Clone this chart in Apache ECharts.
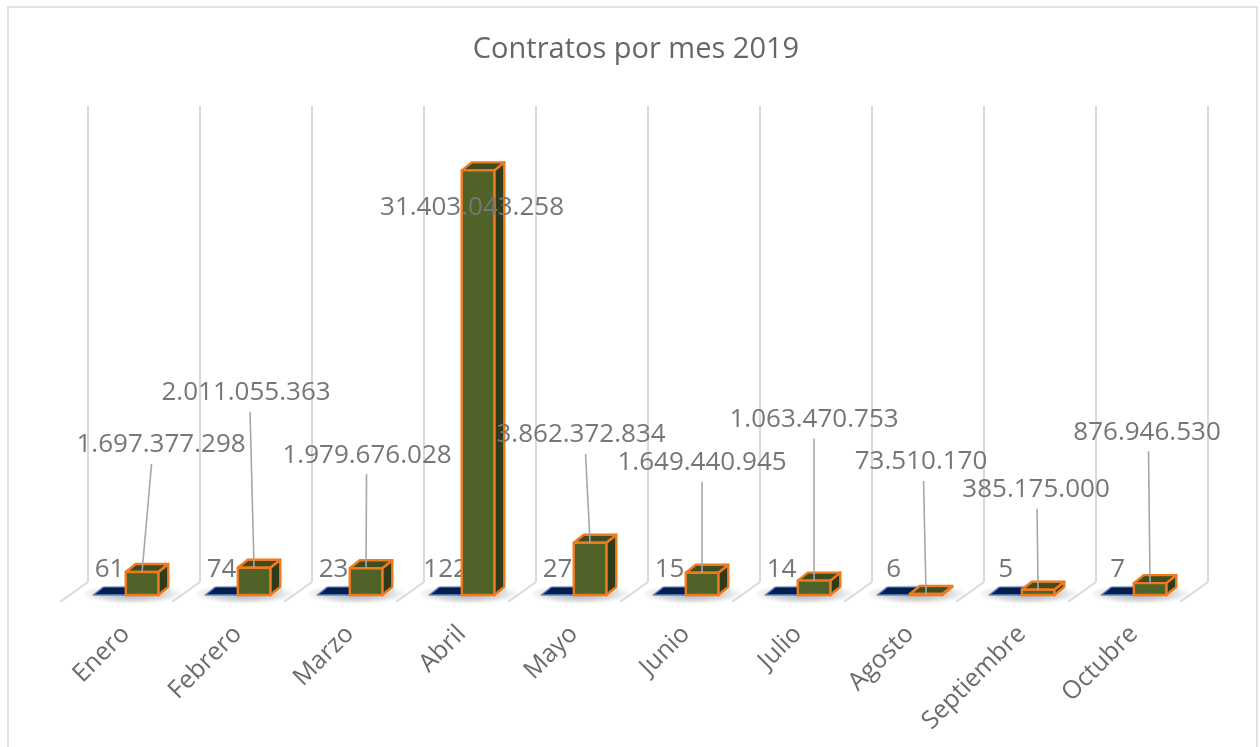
<!DOCTYPE html>
<html>
<head>
<meta charset="utf-8">
<script src="https://cdn.jsdelivr.net/npm/echarts@6/dist/echarts.min.js"></script>
<style>
  html, body { margin: 0; padding: 0; background: #ffffff; }
  #chart { width: 1260px; height: 747px; }
</style>
</head>
<body>
<div id="chart"></div>
<script>
// Monthly contracts for 2019: number of contracts and total contracted value
const months = ['Enero', 'Febrero', 'Marzo', 'Abril', 'Mayo', 'Junio', 'Julio', 'Agosto', 'Septiembre', 'Octubre'];
const contratos = [61, 74, 23, 122, 27, 15, 14, 6, 5, 7];
const valores = [1697377298, 2011055363, 1979676028, 31403043258, 3862372834, 1649440945, 1063470753, 73510170, 385175000, 876946530];

// Where each value label sits, as a pixel offset from the top edge of its column
const valueLabelOffsets = [[19, -127], [-8, -175], [1, -113], [-6, 37], [-9, -108], [0, -110], [0, -161], [-5, -132], [-2, -100], [-3, -151]];

const Y_MAX = 35.2e9;
const BAR_FRAC = 0.29;          // column width as a share of the category band
const DEPTH_X = 10, DEPTH_Y = 8; // column depth (pseudo 3D)
const WALL_X = 18.2, WALL_Y = 13; // back wall offset from the column plane
const FRONT_X = -9.8, FRONT_Y = 7; // front floor edge offset

const GRID_COLOR = '#d9d9d9';
const ORANGE = '#ee7a1e';
const FONT = 'Open Sans';
const LABEL_FONT = '26px "' + FONT + '"';

function fmt(n) {
  return String(n).replace(/\B(?=(\d{3})+(?!\d))/g, '.');
}

const idx = months.map((m, i) => [i, 0]);

// back wall gridlines and floor edges at each category boundary
function renderWalls(params, api) {
  const i = api.value(0);
  const base = api.coord([i, 0]);
  const top = api.coord([i, Y_MAX]);
  const w = api.size([1, 0])[0];
  const xs = [base[0] - w / 2];
  if (i === months.length - 1) xs.push(base[0] + w / 2);
  const children = [];
  xs.forEach(xb => {
    children.push({
      type: 'line',
      shape: { x1: xb + WALL_X, y1: base[1] - WALL_Y, x2: xb + WALL_X, y2: top[1] - WALL_Y },
      style: { stroke: GRID_COLOR, lineWidth: 2 }
    });
    children.push({
      type: 'line',
      shape: { x1: xb + WALL_X, y1: base[1] - WALL_Y, x2: xb + FRONT_X, y2: base[1] + FRONT_Y },
      style: { stroke: GRID_COLOR, lineWidth: 2 }
    });
  });
  return { type: 'group', children };
}

// soft elliptical shadow on the floor under each pair of columns
function renderShadow(params, api) {
  const i = api.value(0);
  const base = api.coord([i, 0]);
  const bw = api.size([1, 0])[0] * BAR_FRAC;
  const cx = base[0] + DEPTH_X / 2 + 2, cy = base[1] - 1;
  return {
    type: 'circle',
    shape: { cx: cx, cy: cy, r: bw + 18 },
    scaleY: 0.2,
    originX: cx,
    originY: cy,
    style: {
      fill: new echarts.graphic.RadialGradient(0.5, 0.5, 0.5, [
        { offset: 0, color: 'rgba(0,0,0,0.32)' },
        { offset: 0.6, color: 'rgba(0,0,0,0.16)' },
        { offset: 1, color: 'rgba(0,0,0,0)' }
      ])
    }
  };
}

// a pseudo-3D column: front face, top face and right side face
function box(x0, yTop, yBase, bw, colors, stroke, lw) {
  const dx = DEPTH_X, dy = DEPTH_Y;
  const st = { stroke: stroke, lineWidth: lw, lineJoin: 'round' };
  return [
    {
      type: 'polygon',
      shape: { points: [[x0 + bw, yTop], [x0 + bw + dx, yTop - dy], [x0 + bw + dx, yBase - dy], [x0 + bw, yBase]] },
      style: Object.assign({ fill: colors.side }, st)
    },
    {
      type: 'polygon',
      shape: { points: [[x0, yTop], [x0 + dx, yTop - dy], [x0 + bw + dx, yTop - dy], [x0 + bw, yTop]] },
      style: Object.assign({ fill: colors.top }, st)
    },
    {
      type: 'rect',
      shape: { x: x0, y: yTop, width: bw, height: Math.max(yBase - yTop, 0.01) },
      style: Object.assign({ fill: colors.front }, st)
    }
  ];
}

function renderCount(params, api) {
  const i = api.value(0);
  const v = api.value(1);
  const p = api.coord([i, v]);
  const base = api.coord([i, 0]);
  const bw = api.size([1, 0])[0] * BAR_FRAC;
  const x0 = p[0] - bw;
  const children = box(x0, p[1], base[1], bw, { front: '#002060', top: '#061c4c', side: '#001642' }, '#5a8ccc', 1.2);
  children.push({
    type: 'text',
    style: {
      text: String(v), x: x0 + bw / 2, y: p[1] - 25,
      align: 'center', verticalAlign: 'middle',
      fill: '#767676', font: LABEL_FONT
    },
    z2: 10
  });
  return { type: 'group', children };
}

function renderValue(params, api) {
  const i = api.value(0);
  const v = api.value(1);
  const p = api.coord([i, v]);
  const base = api.coord([i, 0]);
  const bw = api.size([1, 0])[0] * BAR_FRAC;
  return {
    type: 'group',
    children: box(p[0], p[1], base[1], bw, { front: '#4f6228', top: '#3e4c1f', side: '#303c17' }, ORANGE, 2.4)
  };
}

function renderValueLabel(params, api) {
  const i = api.value(0);
  const v = api.value(1);
  const p = api.coord([i, v]);
  const bw = api.size([1, 0])[0] * BAR_FRAC;
  const ax = p[0] + bw / 2, ay = p[1];
  const off = valueLabelOffsets[i];
  const cx = ax + off[0], cy = ay + off[1];
  const children = [];
  if (off[1] < -40) {
    children.push({
      type: 'line',
      shape: { x1: ax, y1: ay, x2: (ax + cx) / 2, y2: cy + 19 },
      style: { stroke: '#a6a6a6', lineWidth: 1.6 }
    });
  }
  children.push({
    type: 'text',
    style: {
      text: fmt(v), x: cx, y: cy,
      align: 'center', verticalAlign: 'middle',
      fill: '#767676', font: LABEL_FONT
    }
  });
  return { type: 'group', children };
}

const chart = echarts.init(document.getElementById('chart'), null, { renderer: 'canvas' });

chart.setOption({
  backgroundColor: '#ffffff',
  animation: false,
  title: {
    text: 'Contratos por mes 2019',
    left: 636,
    textAlign: 'center',
    top: 35,
    padding: 0,
    textStyle: { color: '#666666', fontSize: 29, fontWeight: 'normal', fontFamily: FONT }
  },
  graphic: [{
    type: 'rect',
    shape: { x: 8, y: 7, width: 1249, height: 745 },
    style: { fill: 'none', stroke: GRID_COLOR, lineWidth: 1.5 },
    silent: true
  }],
  grid: { left: 69.8, width: 1120, top: 119, height: 476 },
  xAxis: {
    type: 'category',
    data: months,
    axisLine: { show: false },
    axisTick: { show: false },
    axisLabel: { rotate: 45, margin: 35, color: '#6b6b6b', fontSize: 25, fontFamily: FONT }
  },
  yAxis: {
    type: 'value', min: 0, max: Y_MAX, show: false,
    splitLine: { show: false }
  },
  series: [
    { type: 'custom', name: 'walls', data: idx, renderItem: renderWalls, z: 1, silent: true },
    { type: 'custom', name: 'shadow', data: idx, renderItem: renderShadow, z: 2, silent: true },
    { type: 'custom', name: 'Contratos', data: contratos.map((v, i) => [i, v]), renderItem: renderCount, z: 3 },
    { type: 'custom', name: 'Valor', data: valores.map((v, i) => [i, v]), renderItem: renderValue, z: 4 },
    { type: 'custom', name: 'Valor etiquetas', data: valores.map((v, i) => [i, v]), renderItem: renderValueLabel, z: 5, silent: true }
  ]
});
</script>
</body>
</html>
